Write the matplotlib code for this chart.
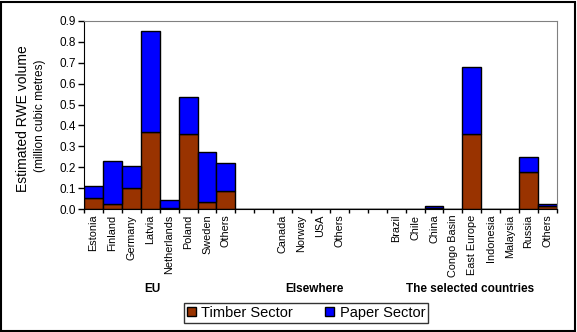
import matplotlib
matplotlib.use("Agg")
import matplotlib.pyplot as plt
import numpy as np
from matplotlib.patches import Rectangle

plt.rcParams["font.family"] = ["Liberation Sans", "DejaVu Sans"]

# categories, with blank slots separating the groups
categories = ["Estonia", "Finland", "Germany", "Latvia", "Netherlands", "Poland",
              "Sweden", "Others", "", "",
              "Canada", "Norway", "USA", "Others", "", "",
              "Brazil", "Chile", "China", "Congo Basin", "East Europe", "Indonesia",
              "Malaysia", "Russia", "Others"]
timber = [0.053, 0.026, 0.102, 0.370, 0.006, 0.357, 0.034, 0.088, 0, 0,
          0, 0, 0, 0, 0, 0,
          0, 0, 0.003, 0, 0.357, 0, 0, 0.175, 0.014]
paper = [0.059, 0.206, 0.106, 0.482, 0.039, 0.178, 0.241, 0.130, 0, 0,
         0, 0, 0, 0, 0, 0,
         0, 0, 0.013, 0, 0.322, 0, 0, 0.073, 0.008]
groups = ["EU", "Elsewhere", "The selected countries"]
group_x = [3.1, 11.7, 19.9]

TIMBER_C = "#993300"
PAPER_C = "#0000FF"

fig = plt.figure(figsize=(5.77, 3.32), dpi=100)
ax = fig.add_axes([84 / 577, 1 - 209 / 332, 473 / 577, 188 / 332])

x = np.arange(len(categories))
ax.bar(x, timber, width=1.0, color=TIMBER_C, edgecolor="black", linewidth=1,
       label="Timber Sector")
ax.bar(x, paper, width=1.0, bottom=timber, color=PAPER_C, edgecolor="black",
       linewidth=1, label="Paper Sector")

ax.set_xlim(-0.5, len(categories) - 0.5)
ax.set_ylim(0, 0.9)
ax.set_yticks(np.arange(0, 0.91, 0.1))
ax.set_yticklabels([f"{v:.1f}" for v in np.arange(0, 0.91, 0.1)], fontsize=8.5)
ax.tick_params(axis="y", length=4, width=1, pad=2)

ax.set_xticks(x)
ax.set_xticklabels(categories, rotation=90, fontsize=7.8)
ax.tick_params(axis="x", which="major", length=0, pad=4)
ax.set_xticks(np.arange(-0.5, len(categories)), minor=True)
ax.tick_params(axis="x", which="minor", length=3, width=1)

for s in ("top", "right"):
    ax.spines[s].set_color("#808080")
for s in ("left", "bottom"):
    ax.spines[s].set_color("black")

group_y = -(289 - 209) / 188
for g, gx in zip(groups, group_x):
    ax.text(gx, group_y, g, transform=ax.get_xaxis_transform(), fontsize=8.5,
            fontweight="bold", ha="center", va="center")

fig.text(23 / 577, 1 - 119 / 332, "Estimated RWE volume", rotation=90,
         fontsize=10, ha="center", va="center")
fig.text(40 / 577, 1 - 116 / 332, "(million cubic metres)", rotation=90,
         fontsize=8.6, ha="center", va="center")

leg = fig.legend(loc="center", bbox_to_anchor=(306 / 577, 1 - 313 / 332),
                 ncol=2, fontsize=10.5, frameon=True, fancybox=False,
                 edgecolor="black", handlelength=0.6, handleheight=0.6,
                 handletextpad=0.4, columnspacing=2.2, borderpad=0.2,
                 borderaxespad=0)
leg.get_frame().set_linewidth(1)

fig.patches.append(Rectangle((1 / 577, 1 / 332), 574 / 577, 329 / 332,
                             transform=fig.transFigure, fill=False,
                             edgecolor="black", linewidth=1.5))

fig.savefig("out.png", dpi=100)
